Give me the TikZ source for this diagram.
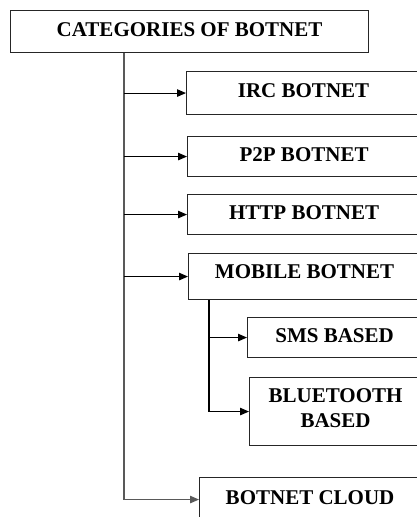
\documentclass[tikz,border=0pt]{standalone}
\usepackage{fontspec}
\setmainfont{Liberation Serif}
\usetikzlibrary{arrows.meta}
\tikzset{
  catbox/.style={draw=black!85, line width=1.1pt, anchor=north west, inner sep=0pt,
    align=center, text depth=5pt, font=\bfseries\fontsize{21}{25}\selectfont},
  link/.style={line width=1.1pt, -{Triangle[length=9pt,width=7.5pt]}}
}
\begin{document}
\begin{tikzpicture}[x=1pt, y=-1pt]
\useasboundingbox (0,0) rectangle (417,517);
\clip (0,0) rectangle (417,517);

% Boxes
\node[catbox, minimum width=358pt, minimum height=42pt] (cat) at (10,10) {CATEGORIES OF BOTNET};
\node[catbox, minimum width=234pt, minimum height=43pt] (irc) at (186,71) {IRC BOTNET};
\node[catbox, minimum width=233pt, minimum height=40pt] (p2p) at (187,136) {P2P BOTNET};
\node[catbox, minimum width=233pt, minimum height=40pt] (http) at (187,194) {HTTP BOTNET};
\node[catbox, minimum width=232pt, minimum height=46pt, text depth=11pt] (mobile) at (188,253) {MOBILE BOTNET};
\node[catbox, minimum width=174pt, minimum height=40pt] (sms) at (247,317) {SMS BASED};
\node[catbox, minimum width=172pt, minimum height=68pt, text depth=8pt] (bt) at (249,377) {BLUETOOTH\\BASED};
\node[catbox, minimum width=221pt, minimum height=44pt] (cloud) at (199,477) {BOTNET CLOUD};

% Trunks
\coordinate (trunk) at (124,0);
\coordinate (subtrunk) at (209,0);

% Main branches
\draw[link, black!65] (cat.south -| trunk) |- (cloud.west);
\draw[link] (irc.west -| trunk) -- (irc.west);
\draw[link] (p2p.west -| trunk) -- (p2p.west);
\draw[link] (http.west -| trunk) -- (http.west);
\draw[link] (mobile.west -| trunk) -- (mobile.west);

% Mobile branches
\draw[link] (mobile.south -| subtrunk) |- (bt.west);
\draw[link] (sms.west -| subtrunk) -- (sms.west);

\end{tikzpicture}
\end{document}
